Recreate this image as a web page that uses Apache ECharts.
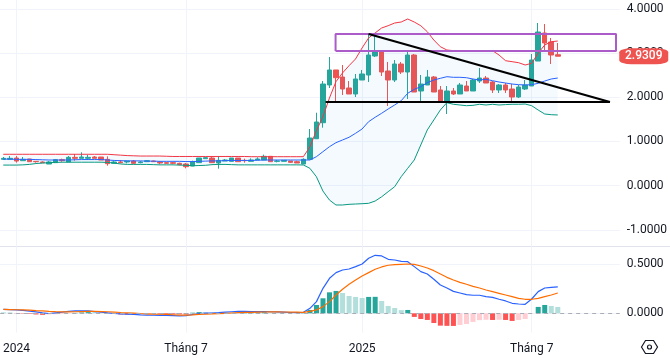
<!DOCTYPE html>
<html><head><meta charset="utf-8">
<style>html,body{margin:0;padding:0;background:#fff}#c{width:670px;height:358px}</style>
<script src="https://cdn.jsdelivr.net/npm/echarts@6/dist/echarts.min.js"></script>
</head><body><div id="c"></div>
<script>
var xTickIndex=[2,28,55,81];
var xTickLabels=['2024','Tháng 7','2025','Tháng 7'];
var priceTicks=[-1,0,1,2,3,4];
var macdTicks=[0,0.5];
var lastPrice=2.9309;
var opens=[.595,.595,.625,.565,.603,.550,.535,.489,.520,.588,
.535,.640,.618,.618,.648,.648,.595,.505,.535,.535,
.557,.520,.542,.557,.535,.520,.520,.505,.489,.444,
.520,.610,.625,.512,.557,.550,.625,.572,.550,.580,
.580,.663,.550,.550,.557,.542,.489,
.596,1.062,1.425,2.279,2.619,2.460,2.211,2.075,2.392,2.505,
2.936,3.033,2.596,2.392,2.754,2.573,2.958,2.143,2.279,2.460,
2.166,1.894,2.143,2.075,2.256,2.143,2.369,2.437,2.347,2.166,
2.279,2.188,2.007,2.188,2.256,2.822,3.457,3.253,2.965];
var closes=[.618,.618,.557,.595,.542,.542,.520,.535,.588,.565,
.640,.618,.648,.640,.618,.580,.497,.535,.520,.557,
.505,.535,.565,.542,.512,.505,.505,.474,.429,.542,
.625,.633,.520,.572,.580,.625,.542,.565,.580,.603,
.663,.542,.557,.572,.527,.512,.595,
1.078,1.441,2.301,2.619,2.444,2.188,2.075,2.415,2.528,2.958,
3.033,2.573,2.392,2.754,2.573,2.958,2.120,2.301,2.460,2.120,
1.894,2.143,2.075,2.279,2.143,2.392,2.437,2.324,2.166,2.279,
2.166,2.007,2.233,2.279,2.845,3.479,3.230,2.958,2.9309];
var lows=[.595,.595,.520,.565,.542,.520,.512,.489,.520,.542,
.535,.565,.618,.580,.618,.580,.452,.505,.505,.505,
.489,.505,.542,.542,.482,.489,.482,.459,.391,.444,
.520,.610,.520,.384,.557,.550,.542,.520,.550,.580,
.580,.542,.527,.550,.512,.512,.489,
.596,1.062,1.312,2.211,1.916,2.052,2.075,2.007,2.392,2.347,
2.913,2.483,1.803,2.347,2.528,1.962,2.120,1.916,2.279,2.120,
1.894,1.622,2.052,2.075,2.143,2.143,2.324,2.324,2.098,2.098,
2.098,1.916,1.984,2.166,2.256,2.822,3.026,2.754,2.93];
var highs=[.648,.671,.671,.648,.603,.550,.550,.557,.603,.610,
.671,.716,.754,.693,.671,.648,.663,.557,.580,.557,
.580,.557,.580,.565,.557,.535,.542,.520,.512,.565,
.625,.655,.655,.671,.603,.625,.625,.610,.618,.640,
.701,.663,.580,.572,.557,.565,.618,
1.282,1.651,2.369,2.913,2.619,2.732,2.369,2.528,2.619,3.411,
3.411,3.033,2.800,2.845,2.800,3.049,2.981,2.505,2.619,2.483,
2.256,2.256,2.211,2.324,2.369,2.415,2.664,2.483,2.369,2.301,
2.324,2.301,2.279,2.392,2.981,3.683,3.660,3.343,3.230];
var bbUpper=[.71,.71,.71,.71,.71,.71,.71,.71,.71,.71,
.71,.71,.71,.71,.71,.71,.71,.70,.69,.68,
.675,.67,.67,.67,.67,.665,.66,.66,.66,.66,
.66,.66,.66,.66,.66,.66,.66,.66,.655,.655,
.655,.655,.655,.655,.655,.655,
.655,.875,1.244,1.561,1.984,2.354,2.55,2.716,2.868,3.117,
3.343,3.457,3.570,3.622,3.683,3.706,3.774,3.706,3.622,3.486,
3.298,3.146,3.072,3.056,3.056,3.056,3.056,3.056,3.056,3.056,
2.958,2.829,2.807,2.784,2.732,2.77,3.0,3.185,3.260,3.275];
var bbMid=[.60,.60,.595,.595,.595,.59,.585,.58,.58,.58,
.58,.585,.59,.59,.59,.59,.58,.57,.565,.56,
.56,.56,.555,.555,.55,.55,.55,.55,.545,.545,
.55,.555,.56,.56,.565,.57,.57,.57,.57,.575,
.58,.58,.58,.58,.58,.58,
.58,.58,.655,.768,.881,.972,1.033,1.094,1.184,1.282,
1.447,1.547,1.638,1.735,1.826,1.923,2.091,2.181,2.240,2.331,
2.392,2.430,2.467,2.453,2.453,2.444,2.415,2.392,2.408,2.376,
2.347,2.324,2.301,2.286,2.279,2.286,2.317,2.369,2.415,2.437];
var bbLower=[.465,.465,.465,.47,.48,.50,.51,.52,.525,.53,
.53,.53,.53,.53,.53,.53,.525,.51,.49,.48,
.48,.48,.48,.475,.47,.47,.47,.465,.46,.45,
.455,.46,.475,.48,.48,.475,.47,.47,.47,.47,
.47,.47,.47,.47,.47,.47,
.467,.392,.202,-.122,-.326,-.439,-.439,-.424,-.417,-.41,
-.401,-.35,-.253,-.138,-.025,.202,.392,.58,.92,1.26,
1.486,1.713,1.878,1.842,1.826,1.81,1.818,1.842,1.826,1.842,
1.826,1.835,1.842,1.842,1.848,1.81,1.712,1.622,1.606,1.60];
var macdLine=[.040,.038,.034,.030,.022,.015,.005,-.002,.005,.012,
.020,.024,.025,.024,.018,.012,.004,-.002,-.006,-.008,
-.012,-.016,-.018,-.020,-.022,-.022,-.024,-.026,-.024,-.012,
-.004,.002,.002,.006,.012,.016,.020,.020,.018,.018,
.018,.016,.014,.012,.008,.006,
.010,.051,.119,.255,.357,.415,.442,.452,.476,.503,
.561,.592,.585,.551,.544,.530,.527,.476,.425,.401,
.347,.289,.258,.224,.207,.190,.184,.184,.170,.163,
.143,.126,.102,.095,.092,.146,.221,.258,.265,.269];
var signalLine=[.040,.038,.036,.034,.032,.028,.025,.020,.017,.015,
.015,.016,.018,.019,.019,.018,.016,.012,.008,.005,
.002,-.002,-.005,-.008,-.010,-.012,-.015,-.018,-.018,-.016,
-.012,-.010,-.006,-.003,0,.003,.006,.009,.010,.012,
.013,.014,.014,.013,.012,.011,
.010,.020,.034,.068,.119,.187,.245,.296,.340,.381,
.415,.449,.473,.490,.496,.500,.503,.500,.483,.462,
.435,.401,.367,.340,.316,.296,.275,.258,.238,.221,
.204,.187,.170,.153,.143,.143,.153,.170,.187,.207];
var histogram=[.010,.009,-.002,-.004,-.006,-.012,-.016,-.012,-.010,-.008,
-.004,.004,.008,.012,.011,.006,.002,-.006,-.012,-.014,
-.012,-.010,-.008,-.004,-.006,-.008,-.009,-.010,-.012,.006,
.012,.010,.008,.008,.008,.007,.006,.007,.008,.009,
.010,.008,.006,.004,.003,.002,.003,
.034,.085,.153,.214,.228,.207,.177,.167,.156,.167,
.168,.126,.075,.054,.032,.034,-.037,-.058,-.068,-.099,
-.126,-.128,-.129,-.119,-.109,-.088,-.070,-.066,-.068,-.066,
-.068,-.078,-.068,-.058,-.002,.065,.085,.075,.065];
// Drawn annotations, x in candle-index units, y in price units
var zoneX=[50.94,93.93], zoneY=[3.049,3.434];
var trendFall=[[56,3.434],[93,1.894]];
var trendFlat=[[49.41,1.894],[93,1.894]];

var slotCount=95;
var categories=[];for(var i=0;i<slotCount;i++)categories.push(String(i));
var candleData=opens.map(function(o,i){return [o,closes[i],lows[i],highs[i]];});
var bandData=bbUpper.map(function(u,i){return +(u-bbLower[i]).toFixed(3);});
var histData=histogram.map(function(v,i){
  var prev=i?histogram[i-1]:v, c;
  if(v>=0)c=prev<v?'#26a69a':'#b2dfdb'; else c=prev<v?'#ffcdd2':'#ff5252';
  return {value:v,itemStyle:{color:c}};
});
var zonePath=[[zoneX[0],zoneY[0]],[zoneX[1],zoneY[0]],[zoneX[1],zoneY[1]],[zoneX[0],zoneY[1]],[zoneX[0],zoneY[0]]];

var GL=-1.27,GW=621,gridC='#f0f3fa',txt='#131722';
function showTick(i){return xTickIndex.indexOf(+i)>=0;}
function plain(name,data,color,x,y,w,extra){
  var s={name:name,type:'line',data:data,xAxisIndex:x,yAxisIndex:y,symbol:'none',silent:true,
    lineStyle:{color:color,width:w},itemStyle:{color:color},animation:false};
  for(var k in extra)s[k]=extra[k];
  return s;
}
var chart=echarts.init(document.getElementById('c'),null,{renderer:'canvas'});
chart.setOption({
  animation:false,backgroundColor:'#fff',
  textStyle:{fontFamily:'Roboto'},
  grid:[{left:GL,width:GW,top:0,height:246.5},{left:GL,width:GW,top:246.5,height:86}],
  xAxis:[
   {type:'category',gridIndex:0,data:categories,boundaryGap:true,axisLine:{show:false},axisTick:{show:false},axisLabel:{show:false},
    splitLine:{show:true,alignWithLabel:true,interval:function(i){return showTick(i);},lineStyle:{color:gridC,width:1}}},
   {type:'category',gridIndex:1,data:categories,boundaryGap:true,axisLine:{show:false},axisTick:{show:false},
    axisLabel:{show:true,margin:10,fontSize:12,color:txt,fontFamily:'Roboto',hideOverlap:false,
      interval:function(i){return showTick(i);},
      formatter:function(v){return xTickLabels[xTickIndex.indexOf(+v)]||'';}},
    splitLine:{show:true,alignWithLabel:true,interval:function(i){return showTick(i);},lineStyle:{color:gridC,width:1}}},
   {type:'value',gridIndex:0,show:false,min:-0.5,max:94.5}
  ],
  yAxis:[
   {type:'value',gridIndex:0,position:'right',min:-1.379,max:4.204,axisLine:{show:false},axisTick:{show:false,customValues:priceTicks},
    axisLabel:{customValues:priceTicks,margin:7,fontSize:12,padding:[3,0,0,0],color:txt,fontFamily:'Roboto',formatter:function(v){return v.toFixed(4);}},
    splitLine:{show:true,lineStyle:{color:gridC,width:1}}},
   {type:'value',gridIndex:1,position:'right',min:-0.196,max:0.6816,axisLine:{show:false},axisTick:{show:false,customValues:macdTicks},
    axisLabel:{customValues:macdTicks,margin:7,fontSize:12,padding:[3,0,0,0],color:txt,fontFamily:'Roboto',formatter:function(v){return v.toFixed(4);}},
    splitLine:{show:true,lineStyle:{color:gridC,width:1}}}
  ],
  series:[
    plain('bandBase',bbLower,'transparent',0,0,0,{stack:'bb',stackStrategy:'all',lineStyle:{width:0,opacity:0}}),
    plain('band',bandData,'transparent',0,0,0,{stack:'bb',stackStrategy:'all',lineStyle:{width:0,opacity:0},areaStyle:{color:'rgba(33,150,243,0.05)',opacity:1}}),
    plain('Upper',bbUpper,'#f23645',0,0,1),
    plain('Basis',bbMid,'#2962ff',0,0,1),
    plain('Lower',bbLower,'#089981',0,0,1),
    {name:'Price',type:'candlestick',data:candleData,xAxisIndex:0,yAxisIndex:0,barWidth:5,silent:true,animation:false,
     itemStyle:{color:'#26a69a',color0:'#ef5350',borderColor:'#26a69a',borderColor0:'#ef5350',borderWidth:1},
     markPoint:{silent:true,animation:false,symbol:'roundRect',symbolSize:[49,16],symbolOffset:[86,0],
       itemStyle:{color:'#ef5350'},
       label:{show:true,position:'inside',color:'#fff',fontSize:12,fontWeight:500,fontFamily:'Roboto',formatter:lastPrice.toFixed(4)},
       data:[{coord:[85,lastPrice]}]}},
    plain('Zone',zonePath,'#ab5cc9',2,0,2,{z:5,clip:false}),
    plain('Falling',trendFall,'#000',2,0,2.2,{z:6}),
    plain('Flat',trendFlat,'#000',2,0,2.2,{z:6}),
    {name:'Hist',type:'bar',data:histData,xAxisIndex:1,yAxisIndex:1,barWidth:5,silent:true,animation:false,
     markLine:{silent:true,animation:false,symbol:'none',label:{show:false},lineStyle:{color:'#a9adb5',type:[4,4],width:1},data:[{yAxis:0}]}},
    plain('MACD',macdLine,'#2962ff',1,1,1.2),
    plain('Signal',signalLine,'#ff6d00',1,1,1.2)
  ],
  graphic:[
    {type:'line',silent:true,shape:{x1:0,y1:246.5,x2:670,y2:246.5},style:{stroke:'#e0e3eb',lineWidth:1}},
    {type:'polygon',silent:true,shape:{points:[[641.5,347],[645.5,340.5],[653.5,340.5],[657.5,347],[653.5,353.5],[645.5,353.5]]},style:{fill:'none',stroke:txt,lineWidth:1.2}},
    {type:'circle',silent:true,shape:{cx:649.5,cy:347,r:2},style:{fill:'none',stroke:txt,lineWidth:1.2}}
  ]
});
</script></body></html>
